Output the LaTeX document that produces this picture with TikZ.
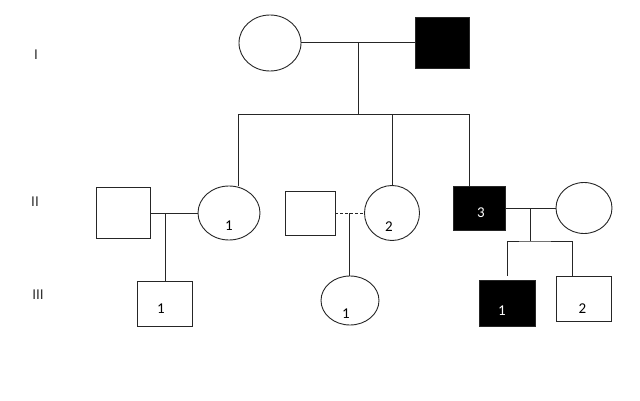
\documentclass[tikz,border=0pt]{standalone}
\usepackage{fontspec}
\setmainfont{Carlito}
\usetikzlibrary{shapes.geometric, positioning}

\begin{document}
\begin{tikzpicture}[x=1pt, y=-1pt,
  line/.style={draw=black!85, line width=1pt},
  male/.style={rectangle, draw=black!85, line width=0.9pt, inner sep=0pt},
  female/.style={ellipse, draw=black!85, line width=0.9pt, inner sep=0pt},
  affected/.style={fill=black},
  num/.style={font=\fontsize{15}{17}\selectfont},
  gen/.style={font=\fontsize{15}{17}\selectfont, text=black!80}
]
\useasboundingbox (0,0) rectangle (640,401);

% generation labels
\node[gen] (g1) at (36,55) {I};
\node[gen] (g2) at (35,202) {II};
\node[gen] (g3) at (38,295) {III};

% generation I
\node[female, minimum width=62, minimum height=56] (i1) at (270,43) {};
\node[male, affected, minimum width=54, minimum height=51] (i2) at (442,43) {};
\coordinate (m1) at (358,43);
\coordinate (s1) at (358,115);
\coordinate (s1l) at (238,115);
\coordinate (s1r) at (469,115);

% generation II
\node[male, minimum width=54, minimum height=51] (ii0) at (123,213) {};
\node[female, minimum width=62, minimum height=54,
      label={[num, yshift=-13pt]center:1}] (ii1) at (229,213) {};
\node[male, minimum width=50, minimum height=44] (ii2p) at (310,213) {};
\node[female, minimum width=55, minimum height=55,
      label={[num, xshift=-3pt, yshift=-14pt]center:2}] (ii2) at (392,213) {};
\node[male, affected, minimum width=52, minimum height=44,
      label={[num, text=white, xshift=2pt, yshift=-5pt]center:3}] (ii3) at (479,208) {};
\node[female, minimum width=56, minimum height=51] (ii4) at (584,208) {};
\coordinate (m2) at (165,213);
\coordinate (m3) at (349,213);
\coordinate (m4) at (530,208);
\coordinate (s4) at (530,241);
\coordinate (s4r) at (572,241);

% generation III
\node[male, minimum width=55, minimum height=45,
      label={[num, xshift=-4pt, yshift=-5pt]center:1}] (iii1) at (165,303.5) {};
\node[female, minimum width=58, minimum height=49,
      label={[num, xshift=-4pt, yshift=-13pt]center:1}] (iii2) at (350,300.5) {};
\node[male, affected, minimum width=56, minimum height=46,
      label={[num, text=white, xshift=-5pt, yshift=-8pt]center:1}] (iii3) at (507,303) {};
\node[male, minimum width=55, minimum height=45,
      label={[num, xshift=-1pt, yshift=-10pt]center:2}] (iii4) at (583.5,298.5) {};

% connectors
\draw[line] (i1) -- (i2);
\draw[line] (m1) -- (s1);
\draw[line] (s1l |- ii1.north) -- (s1l) -- (s1r) -- (s1r |- ii3.north);
\draw[line] (ii2.north) |- (s1);
\draw[line] (ii0) -- (ii1);
\draw[line] (m2) -- (iii1);
\draw[line, dash pattern=on 3pt off 2pt] (ii2p) -- (ii2);
\draw[line] (m3) -- (m3 |- iii2.north);
\draw[line] (ii3) -- (ii4);
\draw[line] (m4) -- (s4);
\draw[line] ([yshift=4pt]iii3.north) |- (s4) -- (s4r) -- (s4r |- iii4.north);
\end{tikzpicture}
\end{document}
